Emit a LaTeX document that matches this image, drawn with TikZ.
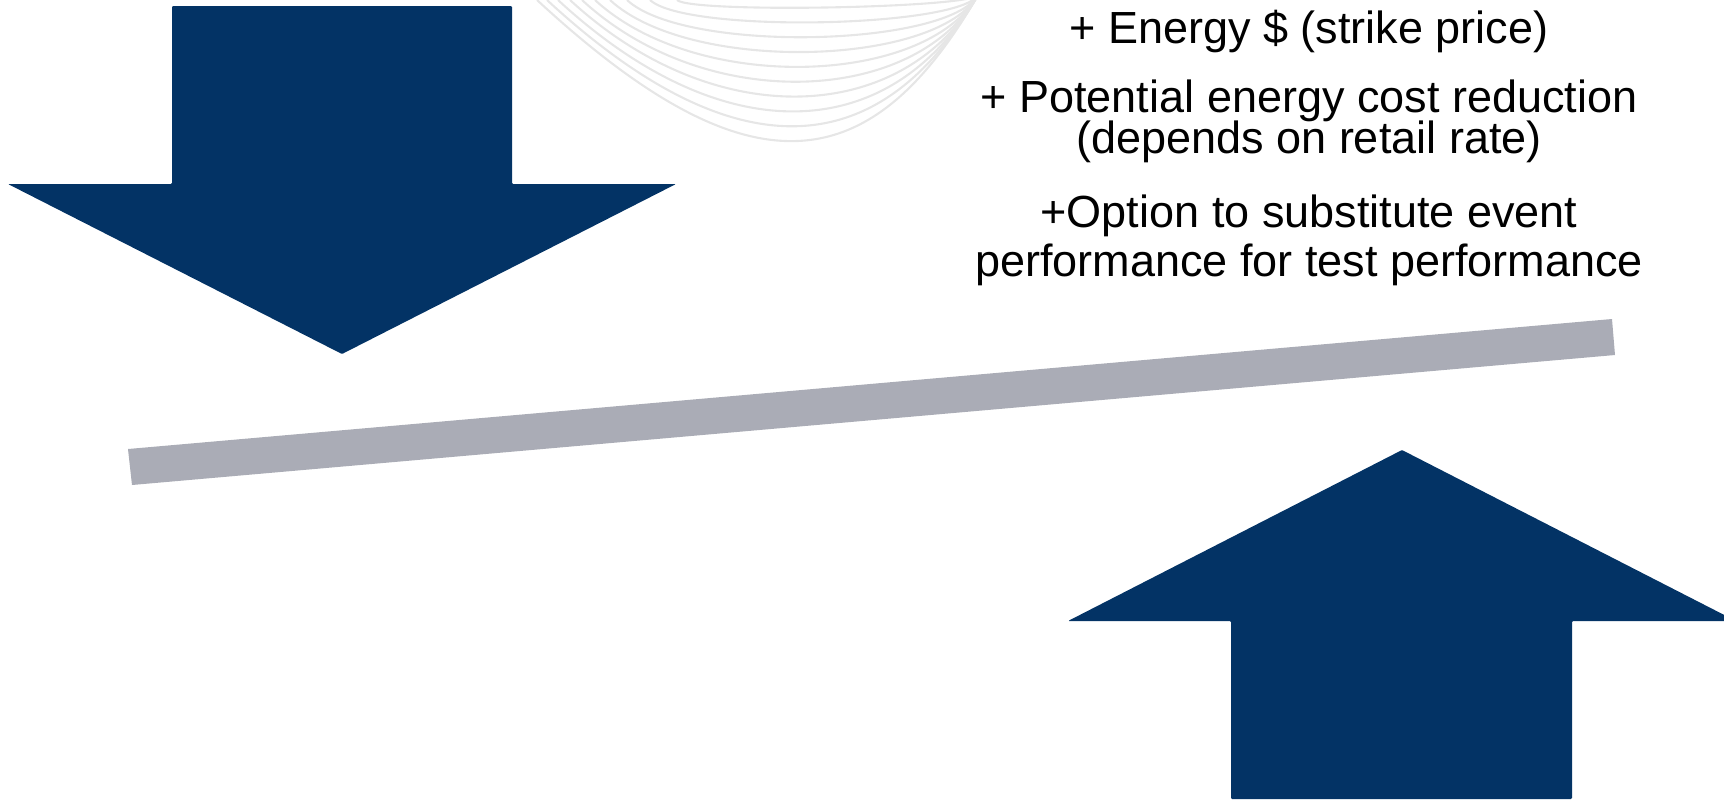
\documentclass[tikz,border=0pt]{standalone}
\usepackage{fontspec}
\setmainfont{Liberation Sans}
\usepackage{tikz}
\definecolor{arrowblue}{RGB}{3,51,101}
\definecolor{beamgray}{RGB}{170,172,182}
\definecolor{swirlgray}{RGB}{230,230,230}
\newcommand{\notefont}{\fontsize{12.8}{11.5}\selectfont\lineskiplimit=-6pt\relax}
\tikzset{
	bigarrow/.style={fill=arrowblue, draw=none, rounded corners=0.3pt},
	plusnote/.style={align=center, anchor=base, inner sep=0pt, font=\notefont},
}

\begin{document}
\begin{tikzpicture}[x=0.01cm, y=-0.01cm]
		%%%%% START %%%%%
		\useasboundingbox (0, 0) rectangle (1724, 799);
		
		% faint swirl lines at the top
		\begin{scope}
			\clip (0, 0) rectangle (1724, 799);
			\foreach \k/\sx in {0/537, 1/547, 2/558, 3/570, 4/582, 5/595, 6/610, 7/627, 8/650, 9/677} {
				\pgfmathsetmacro{\d}{145 - 15*\k}
				\draw[swirlgray, line width=0.6pt] (\sx, 0) .. controls ({\sx + 1.45*\d}, {1.34*\d}) and ({978 - 0.75*\d}, {-5 + 1.3*\d}) .. (978, -5);
			}
		\end{scope}
		
		% down arrow
		\fill[bigarrow] (172, 6) -- (512, 6) -- (512, 184) -- (676, 184) -- (342, 354) -- (8, 184) -- (172, 184) -- cycle;
		
		% beam
		\fill[beamgray] (128, 449) -- (1612, 319) -- (1615, 355) -- (132, 485) -- cycle;
		
		% up arrow
		\fill[bigarrow] (1231, 799) -- (1231, 621) -- (1068, 621) -- (1402, 450) -- (1736, 621) -- (1572, 621) -- (1572, 799) -- cycle;
		
		% texts (base = last line)
		\node[plusnote] (energy) at (1309, 43) {+ Energy \$ (strike price)};
		\node[plusnote] (costcut) at (1309, 153) {+ Potential energy cost reduction\\(depends on retail rate)};
		\node[plusnote] (option) at (1309, 276) {+Option to substitute event\\[2.4pt]performance for test performance};
		
		%%%%% END %%%%%
	\end{tikzpicture}
\end{document}
